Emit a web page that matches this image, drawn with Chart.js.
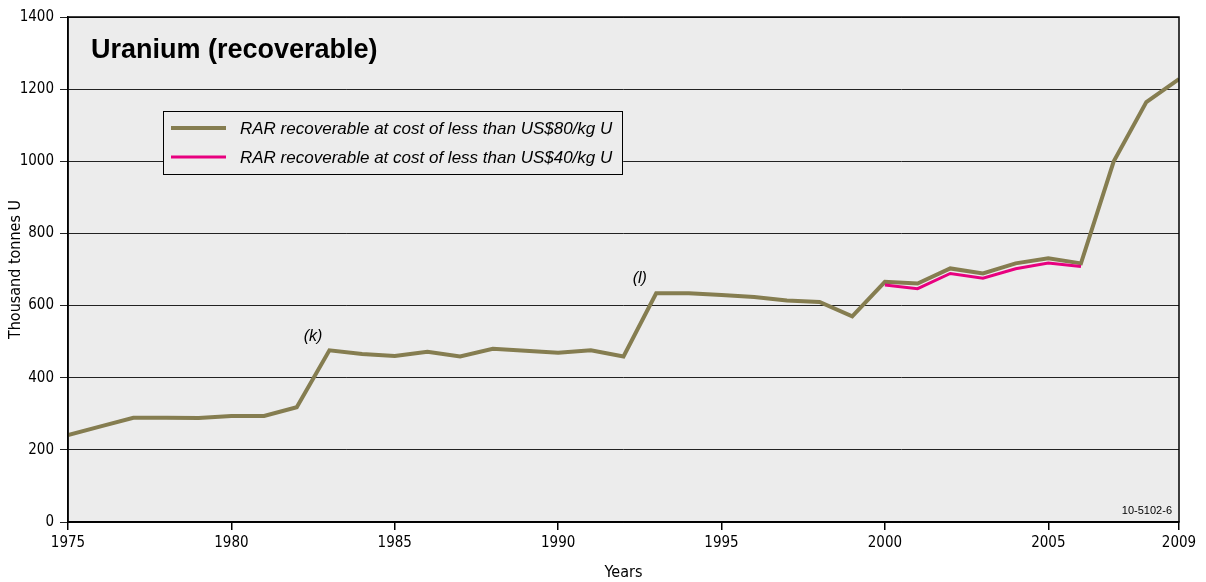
<!DOCTYPE html>
<html>
<head>
<meta charset="utf-8">
<script src="https://cdn.jsdelivr.net/npm/chart.js@4/dist/chart.umd.min.js"></script>
<style>
  html, body { margin: 0; padding: 0; background: #ffffff; }
  #wrap { width: 1206px; height: 582px; position: relative; }
</style>
</head>
<body>
<div id="wrap"><canvas id="uraniumChart" width="1206" height="582"></canvas></div>
<script>
// 데이터
const years80 = [1975, 1976, 1977, 1978, 1979, 1980, 1981, 1982, 1983, 1984, 1985, 1986, 1987, 1988, 1989, 1990, 1991, 1992,
                 1993, 1994, 1995, 1996, 1997, 1998, 1999, 2000, 2001, 2002, 2003, 2004, 2005, 2006, 2007, 2008, 2009];
const rar80 = [241, 265, 289, 289, 288, 294, 294, 318, 476, 466, 460, 472, 459, 480, 475, 469, 476, 459,
               634, 634, 629, 624, 614, 610, 570, 666, 661, 703, 689, 717, 731, 717, 999, 1164, 1228];
const years40 = [2000, 2001, 2002, 2003, 2004, 2005, 2006];
const rar40 = [657, 647, 689, 676, 702, 718, 708];
const xTicks = [1975, 1980, 1985, 1990, 1995, 2000, 2005, 2009];
const seriesLabels = [
    'RAR recoverable at cost of less than US$80/kg U',
    'RAR recoverable at cost of less than US$40/kg U'
];
const notes = [
    { text: '(k)', year: 1982.5, value: 515 },
    { text: '(l)', year: 1992.5, value: 675 }
];

const OLIVE = '#857d50';
const PINK = '#e8007f';
const NARROW = '"Liberation Sans Narrow", "DejaVu Sans Condensed", Arial, sans-serif';
const SANS = '"Liberation Sans", Arial, sans-serif';

function toPoints(xs, ys) {
    return xs.map((x, i) => ({ x: x, y: ys[i] }));
}

// 배경, 제목, 범례, 주석 그리기
const decorPlugin = {
    id: 'decor',
    beforeDraw(chart) {
        const a = chart.chartArea;
        const ctx = chart.ctx;
        ctx.save();
        ctx.fillStyle = '#ececec';
        ctx.fillRect(a.left, a.top, a.right - a.left, a.bottom - a.top);
        ctx.restore();
    },
    afterDatasetsDraw(chart) {
        const ctx = chart.ctx;
        const a = chart.chartArea;
        const xs = chart.scales.x;
        const ys = chart.scales.y;
        ctx.save();

        // 프레임
        ctx.strokeStyle = '#000';
        ctx.lineWidth = 1.5;
        ctx.strokeRect(a.left, a.top, a.right - a.left, a.bottom - a.top);

        // 제목
        ctx.fillStyle = '#000';
        ctx.font = 'bold 27px ' + SANS;
        ctx.textBaseline = 'alphabetic';
        ctx.textAlign = 'left';
        ctx.fillText('Uranium (recoverable)', 91, 58);

        // 범례
        ctx.fillStyle = '#ececec';
        ctx.fillRect(163, 111, 459, 63);
        ctx.strokeStyle = '#000';
        ctx.lineWidth = 1;
        ctx.strokeRect(163.5, 111.5, 459, 63);
        const legendRows = [
            { color: OLIVE, width: 4, y: 128 },
            { color: PINK, width: 3, y: 157 }
        ];
        legendRows.forEach((row, i) => {
            ctx.strokeStyle = row.color;
            ctx.lineWidth = row.width;
            ctx.beginPath();
            ctx.moveTo(171, row.y);
            ctx.lineTo(226, row.y);
            ctx.stroke();
            ctx.fillStyle = '#000';
            ctx.font = 'italic 17px ' + SANS;
            ctx.textBaseline = 'middle';
            ctx.fillText(seriesLabels[i], 240, row.y + 1);
        });

        // 주석
        ctx.font = 'italic 16px ' + SANS;
        ctx.textAlign = 'center';
        ctx.textBaseline = 'middle';
        notes.forEach(n => {
            ctx.fillText(n.text, xs.getPixelForValue(n.year), ys.getPixelForValue(n.value));
        });

        ctx.font = '11px ' + SANS;
        ctx.textAlign = 'right';
        ctx.fillText('10-5102-6', a.right - 7, a.bottom - 11);
        ctx.restore();
    }
};

const chart = new Chart(document.getElementById('uraniumChart').getContext('2d'), {
    type: 'line',
    data: {
        datasets: [
            {
                label: seriesLabels[0],
                data: toPoints(years80, rar80),
                borderColor: OLIVE,
                borderWidth: 4,
                pointRadius: 0,
                tension: 0,
                order: 2
            },
            {
                label: seriesLabels[1],
                data: toPoints(years40, rar40),
                borderColor: PINK,
                borderWidth: 3,
                pointRadius: 0,
                tension: 0,
                order: 1
            }
        ]
    },
    options: {
        responsive: false,
        animation: false,
        layout: { padding: { left: 6, top: 17, right: 27, bottom: 0 } },
        plugins: {
            legend: { display: false },
            tooltip: { enabled: false },
            title: { display: false }
        },
        scales: {
            x: {
                type: 'linear',
                min: 1975,
                max: 2009,
                afterBuildTicks: s => { s.ticks = xTicks.map(v => ({ value: v })); },
                afterFit: s => { s.height = 60; },
                grid: {
                    drawOnChartArea: false,
                    drawTicks: true,
                    tickLength: 8,
                    color: '#000',
                    lineWidth: 1.5
                },
                border: { display: true, color: '#000', width: 1.5 },
                ticks: {
                    autoSkip: false,
                    maxRotation: 0,
                    padding: 4,
                    color: '#000',
                    font: { family: NARROW, size: 15 },
                    callback: v => String(v)
                },
                title: {
                    display: true,
                    text: 'Years',
                    color: '#000',
                    font: { family: NARROW, size: 16 },
                    padding: { top: 0, bottom: 0 }
                }
            },
            y: {
                min: 0,
                max: 1400,
                afterFit: s => { s.width = 62; },
                grid: {
                    drawOnChartArea: true,
                    drawTicks: true,
                    tickLength: 8,
                    color: '#222',
                    lineWidth: 1
                },
                border: { display: true, color: '#000', width: 1.5 },
                ticks: {
                    stepSize: 200,
                    padding: 6,
                    color: '#000',
                    font: { family: NARROW, size: 15 },
                    callback: v => String(v)
                },
                title: {
                    display: true,
                    text: 'Thousand tonnes U',
                    color: '#000',
                    font: { family: NARROW, size: 16 },
                    padding: { top: 0, bottom: 2 }
                }
            }
        }
    },
    plugins: [decorPlugin]
});
</script>
</body>
</html>
